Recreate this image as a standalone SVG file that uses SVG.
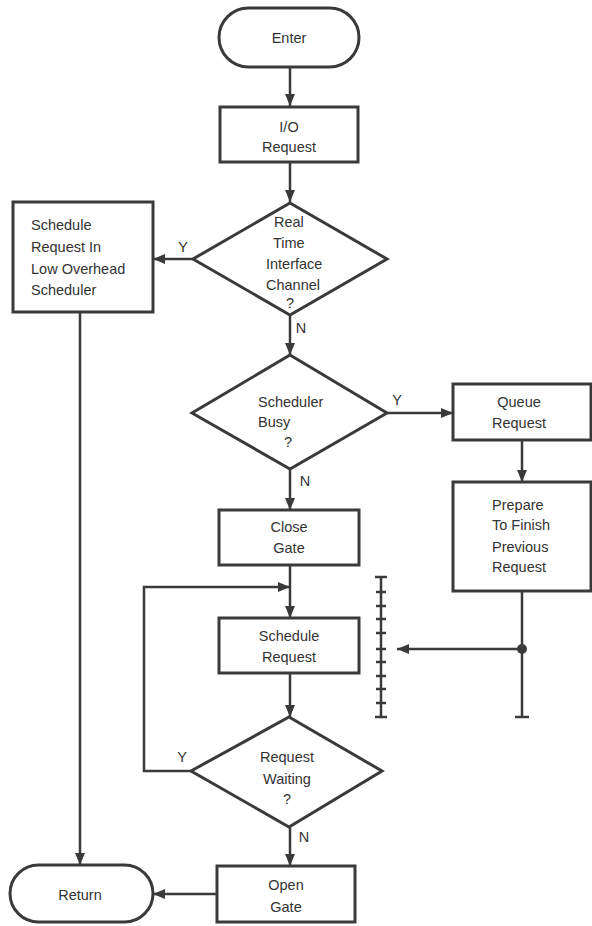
<svg xmlns="http://www.w3.org/2000/svg" width="592" height="926" viewBox="0 0 592 926">
  <style>
    .shape { fill: none; stroke: #3a3a3a; stroke-width: 3; stroke-linejoin: miter; }
    .wire { fill: none; stroke: #3a3a3a; stroke-width: 2.5; }
    .arrow { marker-end: url(#head); }
    text { font-family: "Liberation Sans", Arial, sans-serif; font-size: 14.5px; fill: #333; }
    .c { text-anchor: middle; }
  </style>
  <defs>
    <marker id="head" viewBox="0 0 12 10" refX="12" refY="5" markerWidth="12" markerHeight="10" markerUnits="userSpaceOnUse" orient="auto">
      <path d="M0,0 L12,5 L0,10 Z" fill="#3a3a3a"/>
    </marker>
  </defs>

  <rect width="592" height="926" fill="#fff"/>

  <!-- connectors -->
  <g id="connectors">
    <line class="wire arrow" x1="290" y1="67" x2="290" y2="106"/>
    <line class="wire arrow" x1="290" y1="162" x2="290" y2="202"/>
    <line class="wire arrow" x1="193" y1="259" x2="153" y2="259"/>
    <line class="wire arrow" x1="80" y1="312" x2="80" y2="865"/>
    <line class="wire arrow" x1="290" y1="315" x2="290" y2="355"/>
    <line class="wire arrow" x1="387" y1="413" x2="453" y2="413"/>
    <line class="wire arrow" x1="522" y1="440" x2="522" y2="482"/>
    <line class="wire arrow" x1="290" y1="469" x2="290" y2="510"/>
    <line class="wire arrow" x1="290" y1="565" x2="290" y2="618"/>
    <polyline class="wire arrow" points="191,771 144,771 144,587 290,587"/>
    <line class="wire arrow" x1="290" y1="673" x2="290" y2="717"/>
    <line class="wire arrow" x1="290" y1="827" x2="290" y2="866"/>
    <line class="wire arrow" x1="217" y1="894" x2="153" y2="894"/>

    <!-- line from Prepare box down to the hatched bar -->
    <line class="wire" x1="522" y1="591" x2="522" y2="717"/>
    <line class="wire" x1="515" y1="717" x2="529" y2="717"/>
    <circle cx="522" cy="649" r="5" fill="#3a3a3a"/>
    <line class="wire arrow" x1="522" y1="649" x2="397" y2="649"/>

    <!-- hatched bar -->
    <g class="wire">
      <line x1="381" y1="577" x2="381" y2="717"/>
      <line x1="375" y1="577" x2="387" y2="577"/>
      <line x1="375" y1="717" x2="387" y2="717"/>
      <line x1="376" y1="592" x2="386" y2="592"/>
      <line x1="376" y1="606" x2="386" y2="606"/>
      <line x1="376" y1="619" x2="386" y2="619"/>
      <line x1="376" y1="633" x2="386" y2="633"/>
      <line x1="376" y1="649" x2="386" y2="649"/>
      <line x1="376" y1="662" x2="386" y2="662"/>
      <line x1="376" y1="676" x2="386" y2="676"/>
      <line x1="376" y1="689" x2="386" y2="689"/>
      <line x1="376" y1="703" x2="386" y2="703"/>
    </g>

    <!-- branch labels -->
    <text x="183" y="252" class="c">Y</text>
    <text x="301" y="333" class="c">N</text>
    <text x="397" y="405" class="c">Y</text>
    <text x="305" y="486" class="c">N</text>
    <text x="182" y="762" class="c">Y</text>
    <text x="304" y="842" class="c">N</text>
  </g>

  <g id="enter">
    <rect class="shape" x="219" y="8" width="140" height="59" rx="29.5"/>
    <text x="289" y="43" class="c">Enter</text>
  </g>

  <g id="io-request">
    <rect class="shape" x="220" y="107" width="138" height="55"/>
    <text x="289" y="132" class="c">I/O</text>
    <text x="289" y="152" class="c">Request</text>
  </g>

  <g id="rti-channel">
    <polygon class="shape" points="290,203 387,259 290,315 193,259"/>
    <text x="274" y="227">Real</text>
    <text x="273" y="248">Time</text>
    <text x="266" y="269">Interface</text>
    <text x="266" y="290">Channel</text>
    <text x="290" y="308" class="c">?</text>
  </g>

  <g id="low-overhead">
    <rect class="shape" x="13" y="202" width="140" height="110"/>
    <text x="31" y="230">Schedule</text>
    <text x="31" y="252">Request In</text>
    <text x="31" y="274">Low Overhead</text>
    <text x="31" y="295">Scheduler</text>
  </g>

  <g id="scheduler-busy">
    <polygon class="shape" points="290,355 387,413 290,469 192,413"/>
    <text x="258" y="407">Scheduler</text>
    <text x="258" y="427">Busy</text>
    <text x="288" y="447" class="c">?</text>
  </g>

  <g id="queue-request">
    <rect class="shape" x="453" y="384" width="138" height="56"/>
    <text x="519" y="407" class="c">Queue</text>
    <text x="519" y="428" class="c">Request</text>
  </g>

  <g id="prepare">
    <rect class="shape" x="453" y="482" width="138" height="109"/>
    <text x="492" y="510">Prepare</text>
    <text x="492" y="530">To Finish</text>
    <text x="492" y="552">Previous</text>
    <text x="492" y="572">Request</text>
  </g>

  <g id="close-gate">
    <rect class="shape" x="219" y="510" width="140" height="55"/>
    <text x="289" y="532" class="c">Close</text>
    <text x="289" y="553" class="c">Gate</text>
  </g>

  <g id="schedule-request">
    <rect class="shape" x="219" y="618" width="140" height="55"/>
    <text x="289" y="641" class="c">Schedule</text>
    <text x="289" y="662" class="c">Request</text>
  </g>

  <g id="request-waiting">
    <polygon class="shape" points="289,717 382,771 289,827 191,771"/>
    <text x="287" y="762" class="c">Request</text>
    <text x="287" y="784" class="c">Waiting</text>
    <text x="287" y="804" class="c">?</text>
  </g>

  <g id="open-gate">
    <rect class="shape" x="217" y="866" width="138" height="56"/>
    <text x="286" y="890" class="c">Open</text>
    <text x="286" y="912" class="c">Gate</text>
  </g>

  <g id="return">
    <rect class="shape" x="10" y="865" width="143" height="57" rx="28.5"/>
    <text x="80" y="900" class="c">Return</text>
  </g>
</svg>
